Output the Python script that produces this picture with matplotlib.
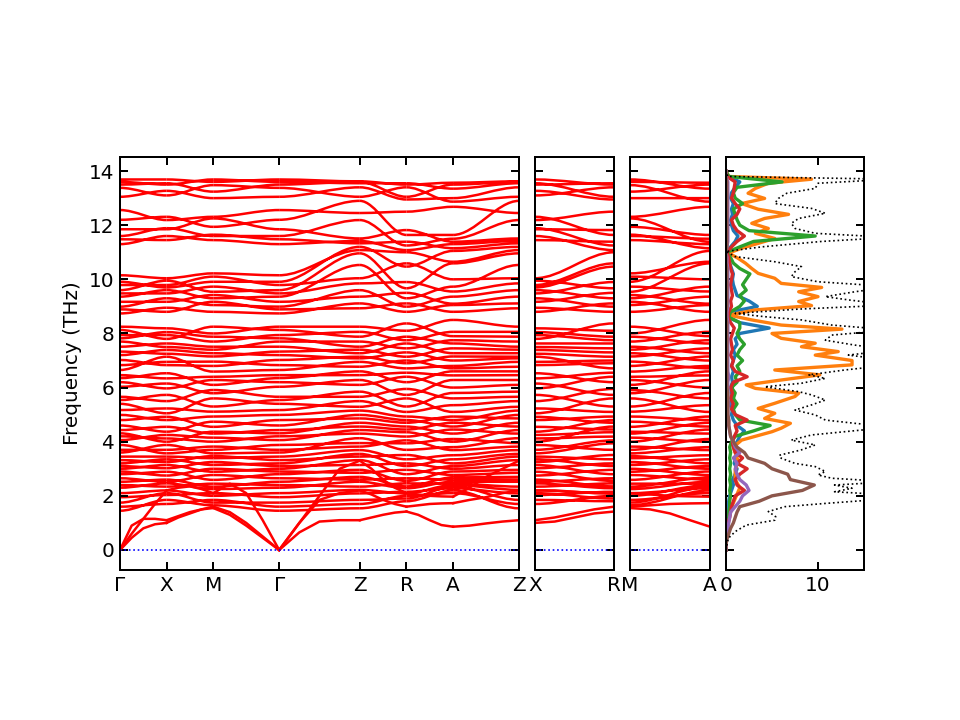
import numpy as np
import matplotlib
matplotlib.use('Agg')
import matplotlib.pyplot as plt
from matplotlib.path import Path
from matplotlib.patches import PathPatch

plt.rcParams['font.size'] = 12
plt.rcParams['axes.linewidth'] = 1.2

# optical branch frequencies (THz) at the high-symmetry points
# (list index = branch, so the order sets how branches connect/cross)
GAMMA = [1.45, 1.6, 1.75, 1.95, 2.1,
         2.3, 2.4, 2.52, 2.65, 2.8, 2.9, 3.0, 3.1, 3.2, 3.32, 3.45,
         3.6, 3.7, 3.88, 4.06, 4.2, 4.31, 4.43, 4.6, 4.8, 4.99,
         5.17, 5.4, 5.54, 5.66, 6.03, 6.2, 6.35, 6.46,
         6.65, 6.83, 7.02, 7.2, 7.33, 7.51, 7.7, 7.82, 7.94, 8.13, 8.25,
         8.74, 8.89, 8.99, 9.17, 9.36, 9.48, 9.6, 9.79, 9.91, 10.15,
         11.3, 11.48, 11.6, 11.85, 12.2, 12.56,
         13.05, 13.38, 13.5, 13.6, 13.69]
X_PT = [1.85, 1.7, 2.1, 2.03, 2.2,
        2.46, 2.34, 2.6, 2.52, 2.89, 2.75, 3.14, 3.02, 3.35, 3.25, 3.45,
        3.88, 3.7, 3.57, 4.25, 4.12, 4.0, 4.55, 4.37, 4.92, 4.8,
        5.23, 5.05, 5.73, 5.5, 6.15, 5.97, 6.53, 6.34,
        7.14, 6.95, 6.83, 7.39, 7.25, 7.63, 7.5, 8.05, 7.94, 7.8, 8.19,
        8.95, 8.8, 9.3, 9.17, 9.6, 9.48, 9.95, 9.79, 9.7, 10.04,
        11.6, 11.45, 11.89, 11.85, 12.31, 12.19,
        13.27, 13.1, 13.55, 13.5, 13.69]
M_PT = [1.65, 1.85, 1.75, 2.1, 2.0,
        2.25, 2.45, 2.34, 2.77, 2.59, 3.0, 2.89, 3.25, 3.14, 3.47, 3.39,
        3.57, 3.82, 3.7, 4.15, 4.0, 4.37, 4.3, 4.74, 4.55, 4.93,
        5.11, 5.6, 5.3, 5.91, 5.79, 6.28, 6.1, 6.4,
        6.59, 6.96, 6.8, 7.27, 7.15, 7.51, 7.4, 7.88, 7.7, 8.25, 8.0,
        8.8, 9.17, 9.05, 9.42, 9.3, 9.73, 9.54, 10.1, 9.91, 10.22,
        11.45, 11.65, 11.6, 12.25, 11.94, 12.31,
        13.0, 13.48, 13.24, 13.69, 13.6]
Z_PT = [1.54, 1.7, 1.85, 2.09, 2.22,
        2.52, 2.34, 2.7, 2.6, 2.96, 2.85, 3.32, 3.14, 3.55, 3.45, 3.69,
        4.13, 3.82, 3.95, 4.43, 4.3, 4.7, 4.56, 4.99, 4.86, 5.15,
        5.5, 5.29, 5.85, 5.66, 6.28, 6.1, 6.6, 6.46,
        6.95, 6.77, 7.14, 7.08, 7.4, 7.27, 7.7, 7.51, 8.06, 7.88, 8.25,
        9.11, 8.93, 9.6, 9.36, 10.53, 9.85, 10.96, 10.04, 11.2, 11.08,
        11.42, 11.33, 12.19, 11.51, 12.9, 12.45,
        13.4, 13.05, 13.6, 13.55, 13.62]
R_PT = [1.8, 2.0, 1.9, 2.15, 2.09,
        2.28, 2.46, 2.35, 2.65, 2.55, 2.96, 2.8, 3.2, 3.1, 3.51, 3.35,
        3.7, 4.05, 3.94, 4.35, 4.19, 4.56, 4.45, 4.8, 4.7, 4.93,
        5.1, 5.6, 5.3, 5.95, 5.73, 6.4, 6.2, 6.55,
        6.71, 7.0, 6.9, 7.3, 7.14, 7.63, 7.45, 7.88, 7.75, 8.37, 8.1,
        8.8, 9.11, 8.99, 9.5, 9.3, 9.9, 9.67, 10.59, 10.47, 11.0,
        11.08, 11.39, 11.25, 11.82, 11.64, 12.5,
        12.95, 13.4, 13.05, 13.55, 13.5]
A_PT = [2.2, 2.1, 2.34, 2.28, 2.4,
        2.52, 2.45, 2.68, 2.6, 2.9, 2.77, 3.1, 3.0, 3.35, 3.2, 3.5,
        3.8, 3.69, 4.1, 4.0, 4.45, 4.3, 4.7, 4.56, 4.93, 4.8,
        5.35, 5.1, 5.8, 5.6, 6.28, 6.0, 6.6, 6.45,
        6.8, 6.71, 7.15, 7.0, 7.45, 7.27, 7.75, 7.63, 8.06, 7.9, 8.5,
        9.05, 8.8, 9.36, 9.1, 9.73, 9.55, 10.59, 10.0, 11.05, 10.65,
        11.3, 11.15, 11.5, 11.39, 11.64, 12.68,
        13.0, 12.87, 13.5, 13.35, 13.57]
optical = {'Γ': GAMMA, 'X': X_PT, 'M': M_PT, 'Z': Z_PT, 'R': R_PT, 'A': A_PT}

# acoustic branches, 5 samples along each segment
acoustic = {
    ('Γ', 'X'): [[0, 0.45, 0.8, 0.95, 1.0], [0, 0.9, 1.15, 1.15, 1.1], [0, 0.6, 1.15, 1.7, 2.2]],
    ('X', 'M'): [[1.0, 1.2, 1.35, 1.5, 1.55], [1.1, 1.25, 1.4, 1.5, 1.6], [2.2, 2.3, 2.35, 2.25, 2.1]],
    ('M', 'Γ'): [[1.55, 1.3, 0.9, 0.45, 0], [1.6, 1.4, 1.0, 0.5, 0], [2.1, 2.45, 2.1, 1.1, 0]],
    ('Γ', 'Z'): [[0, 0.65, 1.05, 1.1, 1.1], [0, 1.0, 1.85, 2.1, 2.2], [0, 1.0, 2.0, 3.0, 3.3]],
    ('Z', 'R'): [[1.1, 1.2, 1.3, 1.38, 1.42], [2.2, 2.05, 1.85, 1.7, 1.6], [3.3, 3.0, 2.6, 2.3, 2.1]],
    ('R', 'A'): [[1.42, 1.3, 1.1, 0.92, 0.86], [1.6, 1.65, 1.7, 1.72, 1.73], [2.1, 2.05, 2.0, 1.98, 1.97]],
    ('A', 'Z'): [[0.86, 0.9, 0.98, 1.05, 1.1], [1.73, 1.85, 1.95, 2.1, 2.2], [1.97, 2.3, 2.7, 3.0, 3.3]],
    ('X', 'R'): [[1.0, 1.05, 1.2, 1.35, 1.42], [1.1, 1.2, 1.35, 1.5, 1.6], [2.2, 2.2, 2.15, 2.1, 2.1]],
    ('M', 'A'): [[1.55, 1.5, 1.35, 1.1, 0.86], [1.6, 1.65, 1.7, 1.72, 1.73], [2.1, 2.05, 2.0, 1.98, 1.97]],
}

# k-path segments and their relative lengths
path_main = [('Γ', 'X', 1.0), ('X', 'M', 1.0), ('M', 'Γ', 1.414), ('Γ', 'Z', 1.73),
             ('Z', 'R', 1.0), ('R', 'A', 1.0), ('A', 'Z', 1.414)]
path_xr = [('X', 'R', 1.73)]
path_ma = [('M', 'A', 1.73)]

# total DOS, read point by point (frequency, value)
tot_f = [0.0, 0.43, 0.68, 0.92, 1.1, 1.23, 1.42, 1.6, 1.72, 1.9, 2.03, 2.15, 2.28, 2.4,
         2.52, 2.65, 2.77, 2.9, 3.08, 3.2, 3.39, 3.5, 3.7, 3.88, 4.06, 4.25, 4.43, 4.55,
         4.68, 4.8, 4.99, 5.17, 5.36, 5.54, 5.73, 5.85, 6.03, 6.16, 6.34, 6.47, 6.65, 6.84,
         7.0, 7.2, 7.39, 7.57, 7.75, 7.94, 8.13, 8.31, 8.5, 8.62, 8.74, 8.9, 9.05, 9.24,
         9.36, 9.54, 9.73, 9.91, 10.1, 10.28, 10.47, 10.65, 10.84, 11.03, 11.2, 11.4, 11.55,
         11.7, 11.88, 12.07, 12.25, 12.44, 12.62, 12.8, 12.99, 13.18, 13.36, 13.55, 13.7,
         13.8, 14.0]
tot_v = [0, 0.25, 1, 2.2, 5.3, 5.4, 4.6, 6.4, 10.8, 18, 18, 11.8, 13.7, 11.8,
         18, 11.5, 10, 10.8, 9.7, 7.5, 6, 5.8, 8.2, 9.7, 7.1, 9.3, 14.7, 18,
         14, 10.8, 9.7, 7.5, 9.3, 10.8, 9.3, 7.9, 4.2, 8.2, 10.8, 9, 12.9, 18,
         18, 13.3, 18, 14, 10.8, 11.5, 18, 11.5, 8.2, 4.2, 1, 7.9, 18, 13.3,
         10.8, 14, 18, 10, 7.1, 7.5, 8.2, 5.3, 1, 0, 3.9, 10.4, 18,
         9.7, 7.5, 7.1, 7.9, 10.8, 9.3, 5.3, 5.7, 6.6, 9.7, 10, 18,
         0.2, 0]

# orange partial DOS, read point by point
orn_f = [0.0, 0.5, 1.5, 2.3, 2.6, 2.95, 3.3, 3.8, 4.06, 4.37, 4.5, 4.68, 4.86, 5.05,
         5.23, 5.42, 5.67, 5.79, 5.97, 6.1, 6.28, 6.47, 6.65, 6.84, 7.0, 7.2, 7.33,
         7.51, 7.64, 7.82, 8.0, 8.16, 8.31, 8.5, 8.68, 8.87, 9.03, 9.18, 9.36, 9.54,
         9.7, 9.85, 10.04, 10.22, 10.4, 10.6, 10.78, 10.97, 11.15, 11.33, 11.51, 11.7,
         11.88, 12.07, 12.25, 12.4, 12.59, 12.8, 12.99, 13.18, 13.36, 13.55, 13.7, 13.8, 14.0]
orn_v = [0, 0, 0.5, 1.5, 1.0, 1, 1.3, 0.8, 1.7, 5, 6, 7, 4.2, 5.3,
         3.5, 5.3, 7.5, 7.9, 3.2, 2.2, 6, 10.2, 5.3, 13.7, 13.7, 9.7, 12.2,
         8.2, 9.7, 6, 5, 12.6, 6, 2.8, 0.3, 3.2, 9.3, 7.9, 10, 7.9,
         10.4, 6, 5.3, 3.5, 2.8, 2.1, 1.3, 0.3, 1.7, 3.5, 5.3, 3.2,
         4.6, 2.8, 4.2, 6.8, 3.5, 1.7, 4.2, 2.4, 3.2, 4.6, 9.3, 0.3, 0]

# other partial DOS on a 0.2 THz grid
dos_freq = np.arange(0, 14.01, 0.2)
dos_blue = [0, 0, 0, 0, 0.1, 0.1, 0.3, 0.3, 0.3, 0.3,
            0.4, 0.6, 0.8, 0.7, 1.0, 1.2, 0.9, 1.0, 1.1, 0.9,
            1.2, 1.5, 2, 1.2, 0.8, 0.6, 0.7, 0.5, 0.8, 0.6,
            0.5, 0.7, 0.6, 0.8, 0.6, 0.8, 1, 0.8, 1.2, 1,
            1.5, 4.7, 1.5, 0.2, 0.5, 3.4, 2.5, 1.2, 1, 0.8,
            0.7, 0.8, 0.6, 0.4, 0.3, 0.1, 0.5, 1, 1.3, 0.8,
            0.6, 0.5, 0.7, 0.6, 0.8, 0.5, 0.6, 1, 1.5, 0.2, 0]
dos_green = [0, 0, 0, 0, 0.1, 0.1, 0.3, 0.3, 0.4, 0.4,
             0.5, 0.4, 0.5, 0.4, 0.5, 0.4, 0.5, 0.4, 0.5, 0.4,
             0.6, 1, 3, 4.8, 1.5, 1, 0.8, 1.2, 0.8, 1.0,
             0.6, 1.2, 1, 1.5, 1.2, 1.8, 1.2, 1.5, 2, 1.5,
             1.2, 1.5, 1.5, 0.3, 0.5, 1.5, 2, 1.5, 2.2, 1.8,
             2.2, 2.6, 1.5, 0.8, 0.5, 0.1, 1.5, 3, 9.7, 2.5,
             1.5, 1.2, 1.0, 0.8, 1.8, 1, 0.8, 1.2, 6.1, 0.3, 0]
dos_red = [0, 0, 0, 0, 0.1, 0.2, 0.4, 0.5, 0.6, 0.8,
           1.0, 2.0, 1.2, 1.0, 1.5, 2.3, 1.2, 1.8, 1.0, 0.8,
           0.7, 0.9, 1.2, 1.0, 2.3, 1.0, 0.6, 0.8, 0.5, 0.7,
           0.5, 0.8, 2.3, 1.0, 0.6, 0.8, 0.5, 0.7, 0.6, 0.5,
           0.7, 0.9, 0.5, 0.2, 0.3, 0.6, 0.5, 0.7, 0.6, 0.5,
           0.6, 0.7, 0.5, 0.4, 0.3, 0.1, 0.6, 1.2, 2.0, 1.2,
           0.8, 0.6, 1.2, 1.5, 1.0, 0.6, 0.8, 0.9, 1.0, 0.1, 0]
dos_purple = [0, 0, 0, 0.1, 0.2, 0.3, 0.4, 0.5, 1, 1.5,
              1.8, 2.5, 2.2, 1.5, 1.2, 1, 1.2, 0.8, 1.5, 1,
              0.8, 0.5, 0.4, 0.3, 0.3, 0.2, 0.2, 0.3, 0.2, 0.2,
              0.2, 0.2, 0.3, 0.2, 0.2, 0.2, 0.2, 0.2, 0.2, 0.2,
              0.2, 0.2, 0.2, 0.1, 0.1, 0.2, 0.2, 0.2, 0.2, 0.2,
              0.2, 0.2, 0.2, 0.1, 0.1, 0.0, 0.1, 0.2, 0.2, 0.2,
              0.2, 0.2, 0.2, 0.2, 0.2, 0.2, 0.2, 0.2, 0.2, 0.0, 0]
dos_brown = [0, 0, 0.1, 0.3, 0.5, 0.8, 1.0, 1.2, 1.5, 3.6,
             5, 8.3, 9.6, 7, 6.7, 5, 4.2, 2.4, 2, 1.2,
             0.8, 0.5, 0.4, 0.3, 0.3, 0.2, 0.2, 0.2, 0.2, 0.2,
             0.1, 0.1, 0.1, 0.1, 0.1, 0.1, 0.1, 0.1, 0.1, 0.1,
             0.1, 0.1, 0.1, 0.0, 0.0, 0.1, 0.1, 0.1, 0.1, 0.1,
             0.1, 0.1, 0.1, 0.0, 0.0, 0.0, 0.1, 0.1, 0.1, 0.1,
             0.1, 0.1, 0.1, 0.1, 0.1, 0.1, 0.1, 0.1, 0.1, 0.0, 0]

ylo, yhi = -0.74, 14.52


def draw_bands(ax, segs):
    x = 0.0
    ticks, labels = [0.0], [segs[0][0]]
    for p, q, L in segs:
        verts, codes = [], []
        for y0, y1 in zip(optical[p], optical[q]):
            verts += [(x, y0), (x + L / 3, y0), (x + 2 * L / 3, y1), (x + L, y1)]
            codes += [Path.MOVETO, Path.CURVE4, Path.CURVE4, Path.CURVE4]
        ax.add_patch(PathPatch(Path(verts, codes), fill=False, ec='r', lw=1.5))
        for ac in acoustic[(p, q)]:
            ax.plot(np.linspace(x, x + L, len(ac)), ac, 'r', lw=1.5)
        x += L
        ticks.append(x)
        labels.append(q)
    ax.plot([0, x], [0, 0], color='b', ls=':', lw=1)
    ax.set_xlim(0, x)
    ax.set_ylim(ylo, yhi)
    ax.set_xticks(ticks)
    ax.set_xticklabels(labels)
    ax.set_yticks(range(0, 15, 2))
    ax.tick_params(direction='in', top=True, right=True, width=1.2, length=5)


fig = plt.figure(figsize=(8, 6), dpi=120)
W, H = 960, 720
ax1 = fig.add_axes([120 / W, 150 / H, 399 / W, 413 / H])
ax2 = fig.add_axes([535 / W, 150 / H, 79 / W, 413 / H])
ax3 = fig.add_axes([630 / W, 150 / H, 80 / W, 413 / H])
ax4 = fig.add_axes([726 / W, 150 / H, 138 / W, 413 / H])

draw_bands(ax1, path_main)
draw_bands(ax2, path_xr)
draw_bands(ax3, path_ma)
ax1.set_ylabel("Frequency (THz)")
ax2.set_yticklabels([])
ax3.set_yticklabels([])

ax4.plot(dos_blue, dos_freq, color='C0', lw=2)
ax4.plot(orn_v, orn_f, color='C1', lw=2)
for vals, c in [(dos_green, 'C2'), (dos_red, 'C3'), (dos_purple, 'C4'), (dos_brown, 'C5')]:
    ax4.plot(vals, dos_freq, color=c, lw=2)
ax4.plot(tot_v, tot_f, 'k:', lw=1)
ax4.set_xlim(0, 15)
ax4.set_ylim(ylo, yhi)
ax4.set_xticks([0, 10])
ax4.set_yticks(range(0, 15, 2))
ax4.set_yticklabels([])
ax4.tick_params(direction='in', top=True, right=True, width=1.2, length=5)

plt.savefig('out.png', dpi=120)
